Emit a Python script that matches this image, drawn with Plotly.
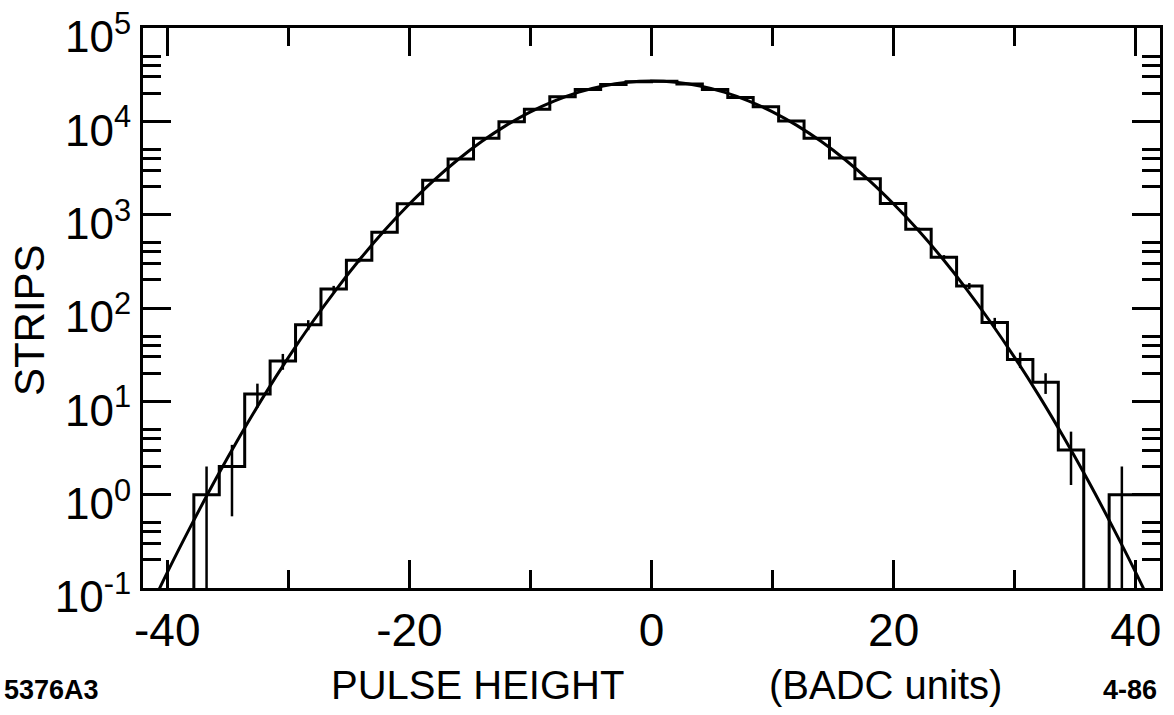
import numpy as np
import plotly.graph_objects as go

# ---------------- data ----------------
bin_lo = -42.0
bin_width = 2.1
counts = [0, 0, 1, 2, 12, 27, 66, 160, 325, 650,
          1310, 2340, 3950, 6600, 9900, 13500, 18300, 22000, 24800, 26600,
          26900, 25100, 22000, 18000, 14300, 10100, 6600, 4050, 2420, 1320,
          700, 350, 172, 70, 28, 16, 3, 0, 1, 1]

fit_x = [-42, -40, -38, -36, -34, -32, -30, -28, -26, -24, -22, -20, -18, -16, -14, -12, -10, -8, -6, -4, -2,
         0, 2, 4, 6, 8, 10, 12, 14, 16, 18, 20, 22, 24, 26, 28, 30, 32, 34, 36, 38, 40, 42]
fit_y = [0.042, 0.146, 0.474, 1.46, 4.22, 11.5, 29.4, 70.8, 160.5, 343, 689, 1300, 2317, 3880, 6110, 9060,
         12650, 16600, 20550, 23900, 26190,
         27000, 26190, 23900, 20550, 16600, 12650, 9060, 6110, 3880, 2317, 1300, 689, 343, 160.5, 70.8,
         29.4, 11.5, 4.22, 1.46, 0.474, 0.146, 0.042]

x_tickvals = [-40, -20, 0, 20, 40]
x_ticktext = ["-40", "-20", "0", "20", "40"]
x_minor = [-30, -10, 10, 30]
y_tickvals = [0.1, 1, 10, 100, 1000, 10000, 100000]
y_ticktext = ["10<sup>-1</sup>", "10<sup>0</sup>", "10<sup>1</sup>", "10<sup>2</sup>",
              "10<sup>3</sup>", "10<sup>4</sup>", "10<sup>5</sup>"]
y_minor_mult = [2, 3, 4, 5]

# ---------------- build ----------------
FLOOR = 1e-3
edges = bin_lo + bin_width * np.arange(len(counts) + 1)
step_y = [c if c > 0 else FLOOR for c in counts] + [counts[-1] if counts[-1] > 0 else FLOOR]

centers = edges[:-1] + bin_width / 2
ex, ey = [], []
for k, c in enumerate(counts[:-1]):
    if c > 0:
        e = np.sqrt(c)
        lo = c - e if c - e > 0 else FLOOR
        ex += [centers[k], centers[k], None]
        ey += [lo, c + e, None]

fig = go.Figure()
fig.add_trace(go.Scatter(x=list(edges), y=step_y, mode="lines", line=dict(color="black", width=3, shape="hv"),
                         showlegend=False, hoverinfo="skip"))
fig.add_trace(go.Scatter(x=ex, y=ey, mode="lines", line=dict(color="black", width=2.5),
                         showlegend=False, hoverinfo="skip"))
fig.add_trace(go.Scatter(x=fit_x, y=fit_y, mode="lines", line=dict(color="black", width=3, shape="spline"),
                         showlegend=False, hoverinfo="skip"))

FONT = "Liberation Sans, Arial, Helvetica, sans-serif"
y_minor = [m * 10.0 ** d for d in range(-1, 5) for m in y_minor_mult]

fig.update_layout(
    width=1174, height=715,
    margin=dict(l=143, r=14, t=28, b=127),
    paper_bgcolor="white", plot_bgcolor="white",
    font=dict(family=FONT, color="black"),
    xaxis=dict(range=[-42, 42], showline=True, linewidth=3, linecolor="black", mirror="ticks",
               ticks="inside", ticklen=28, tickwidth=3, tickcolor="black", automargin=False,
               tickmode="array", tickvals=x_tickvals, ticktext=x_ticktext, ticklabeloverflow="allow",
               tickfont=dict(size=46, family=FONT), showgrid=False, zeroline=False,
               minor=dict(tickmode="array", tickvals=x_minor, ticks="inside", ticklen=18, tickwidth=3,
                          tickcolor="black", showgrid=False)),
    yaxis=dict(type="log", range=[-1.0005, 5.0005], showline=True, linewidth=3, linecolor="black",
               mirror="ticks", ticklabeloverflow="allow", automargin=False, ticklabelshift=9,
               ticks="inside", ticklen=28, tickwidth=3, tickcolor="black",
               tickmode="array", tickvals=y_tickvals, ticktext=y_ticktext,
               tickfont=dict(size=44, family=FONT), showgrid=False, zeroline=False,
               minor=dict(tickmode="array", tickvals=y_minor, ticks="inside", ticklen=18, tickwidth=3,
                          tickcolor="black", showgrid=False)),
    annotations=[
        dict(text="PULSE HEIGHT", xref="paper", yref="paper", x=0.329, y=-0.173, showarrow=False,
             xanchor="center", yanchor="middle", font=dict(size=40, family=FONT)),
        dict(text="(BADC units)", xref="paper", yref="paper", x=0.730, y=-0.173, showarrow=False,
             xanchor="center", yanchor="middle", font=dict(size=40, family=FONT)),
        dict(text="STRIPS", xref="paper", yref="paper", x=-0.111, y=0.4786, showarrow=False, textangle=-90,
             xanchor="center", yanchor="middle", font=dict(size=42, family=FONT)),
        dict(text="<b>5376A3</b>", xref="paper", yref="paper", x=-0.0895, y=-0.182, showarrow=False,
             xanchor="center", yanchor="middle", font=dict(size=27, family=FONT)),
        dict(text="<b>4-86</b>", xref="paper", yref="paper", x=0.9705, y=-0.182, showarrow=False,
             xanchor="center", yanchor="middle", font=dict(size=27, family=FONT)),
    ],
)

fig.write_html("out.html")
